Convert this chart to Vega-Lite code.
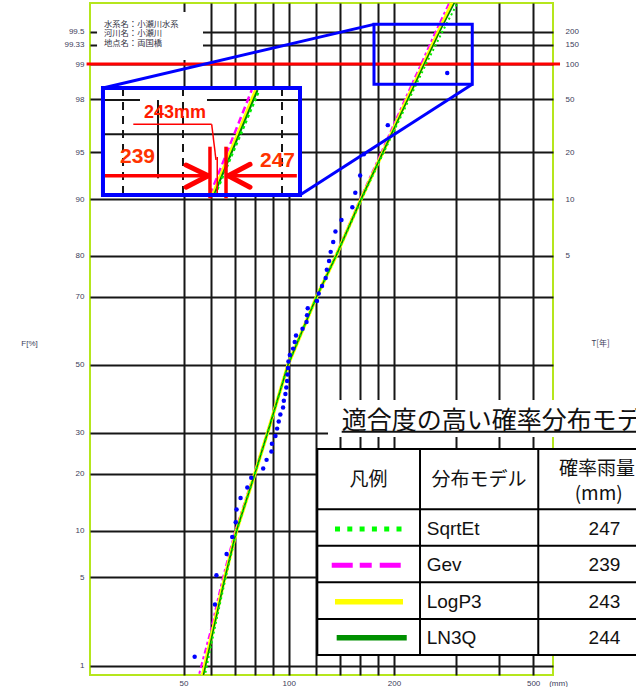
{
  "$schema": "https://vega.github.io/schema/vega-lite/v6.json",
  "width": 463,
  "height": 672,
  "autosize": {"type": "none"},
  "padding": {"left": 90, "top": 3, "right": 83, "bottom": 12},
  "background": "#ffffff",
  "config": {
    "view": {"stroke": "#b5e61d", "strokeWidth": 2},
    "text": {"font": "Liberation Sans"},
    "axis": {"labelFont": "Liberation Sans", "titleFont": "Noto Sans CJK JP"}
  },
  "data": {
    "values": [
      {"grp": "obs", "p": 1.20, "mm": 53.8},
      {"grp": "obs", "p": 3.19, "mm": 61.5},
      {"grp": "obs", "p": 5.18, "mm": 62.1},
      {"grp": "obs", "p": 7.17, "mm": 66.4},
      {"grp": "obs", "p": 9.16, "mm": 68.9},
      {"grp": "obs", "p": 11.16, "mm": 70.5},
      {"grp": "obs", "p": 13.15, "mm": 70.9},
      {"grp": "obs", "p": 15.14, "mm": 72.8},
      {"grp": "obs", "p": 17.13, "mm": 76.1},
      {"grp": "obs", "p": 19.12, "mm": 78.1},
      {"grp": "obs", "p": 21.12, "mm": 84.5},
      {"grp": "obs", "p": 23.11, "mm": 86.4},
      {"grp": "obs", "p": 25.10, "mm": 89.2},
      {"grp": "obs", "p": 27.09, "mm": 89.5},
      {"grp": "obs", "p": 29.08, "mm": 91.6},
      {"grp": "obs", "p": 31.08, "mm": 92.6},
      {"grp": "obs", "p": 33.07, "mm": 93.6},
      {"grp": "obs", "p": 35.06, "mm": 94.6},
      {"grp": "obs", "p": 37.05, "mm": 96.3},
      {"grp": "obs", "p": 39.04, "mm": 96.8},
      {"grp": "obs", "p": 41.04, "mm": 97.8},
      {"grp": "obs", "p": 43.03, "mm": 98.4},
      {"grp": "obs", "p": 45.02, "mm": 98.9},
      {"grp": "obs", "p": 47.01, "mm": 99.2},
      {"grp": "obs", "p": 49.00, "mm": 99.5},
      {"grp": "obs", "p": 51.00, "mm": 99.8},
      {"grp": "obs", "p": 52.99, "mm": 100.7},
      {"grp": "obs", "p": 54.98, "mm": 102.9},
      {"grp": "obs", "p": 56.97, "mm": 104.0},
      {"grp": "obs", "p": 58.96, "mm": 104.9},
      {"grp": "obs", "p": 60.96, "mm": 109.5},
      {"grp": "obs", "p": 62.95, "mm": 112.4},
      {"grp": "obs", "p": 64.94, "mm": 112.8},
      {"grp": "obs", "p": 66.93, "mm": 113.3},
      {"grp": "obs", "p": 68.92, "mm": 120.4},
      {"grp": "obs", "p": 70.92, "mm": 121.8},
      {"grp": "obs", "p": 72.91, "mm": 124.5},
      {"grp": "obs", "p": 74.90, "mm": 127.5},
      {"grp": "obs", "p": 76.89, "mm": 128.5},
      {"grp": "obs", "p": 78.88, "mm": 130.4},
      {"grp": "obs", "p": 80.88, "mm": 131.8},
      {"grp": "obs", "p": 82.87, "mm": 134.0},
      {"grp": "obs", "p": 84.86, "mm": 136.0},
      {"grp": "obs", "p": 86.85, "mm": 141.5},
      {"grp": "obs", "p": 88.84, "mm": 152.0},
      {"grp": "obs", "p": 90.84, "mm": 155.0},
      {"grp": "obs", "p": 92.83, "mm": 160.0},
      {"grp": "obs", "p": 94.82, "mm": 164.0},
      {"grp": "obs", "p": 96.81, "mm": 192.0},
      {"grp": "obs", "p": 98.80, "mm": 284.0},

      {"grp": "curve", "model": "Gev", "p": 0.7, "mm": 54.7},
      {"grp": "curve", "model": "Gev", "p": 1, "mm": 56.2},
      {"grp": "curve", "model": "Gev", "p": 2, "mm": 59.8},
      {"grp": "curve", "model": "Gev", "p": 5, "mm": 64.8},
      {"grp": "curve", "model": "Gev", "p": 10, "mm": 70.3},
      {"grp": "curve", "model": "Gev", "p": 20, "mm": 79.6},
      {"grp": "curve", "model": "Gev", "p": 30, "mm": 86.8},
      {"grp": "curve", "model": "Gev", "p": 50, "mm": 99.5},
      {"grp": "curve", "model": "Gev", "p": 70, "mm": 120},
      {"grp": "curve", "model": "Gev", "p": 80, "mm": 136},
      {"grp": "curve", "model": "Gev", "p": 90, "mm": 160},
      {"grp": "curve", "model": "Gev", "p": 95, "mm": 184},
      {"grp": "curve", "model": "Gev", "p": 98, "mm": 215},
      {"grp": "curve", "model": "Gev", "p": 99, "mm": 239},
      {"grp": "curve", "model": "Gev", "p": 99.5, "mm": 263},
      {"grp": "curve", "model": "Gev", "p": 99.8, "mm": 297},

      {"grp": "curve", "model": "LogP3", "p": 0.7, "mm": 56.1},
      {"grp": "curve", "model": "LogP3", "p": 1, "mm": 57.5},
      {"grp": "curve", "model": "LogP3", "p": 2, "mm": 60.6},
      {"grp": "curve", "model": "LogP3", "p": 5, "mm": 65.6},
      {"grp": "curve", "model": "LogP3", "p": 10, "mm": 70.9},
      {"grp": "curve", "model": "LogP3", "p": 20, "mm": 80},
      {"grp": "curve", "model": "LogP3", "p": 30, "mm": 87},
      {"grp": "curve", "model": "LogP3", "p": 50, "mm": 99.5},
      {"grp": "curve", "model": "LogP3", "p": 70, "mm": 120},
      {"grp": "curve", "model": "LogP3", "p": 80, "mm": 136.5},
      {"grp": "curve", "model": "LogP3", "p": 90, "mm": 161},
      {"grp": "curve", "model": "LogP3", "p": 95, "mm": 186},
      {"grp": "curve", "model": "LogP3", "p": 98, "mm": 218},
      {"grp": "curve", "model": "LogP3", "p": 99, "mm": 243},
      {"grp": "curve", "model": "LogP3", "p": 99.5, "mm": 268},
      {"grp": "curve", "model": "LogP3", "p": 99.8, "mm": 303},

      {"grp": "curve", "model": "LN3Q", "p": 0.7, "mm": 56.4},
      {"grp": "curve", "model": "LN3Q", "p": 1, "mm": 57.8},
      {"grp": "curve", "model": "LN3Q", "p": 2, "mm": 60.8},
      {"grp": "curve", "model": "LN3Q", "p": 5, "mm": 65.7},
      {"grp": "curve", "model": "LN3Q", "p": 10, "mm": 70.9},
      {"grp": "curve", "model": "LN3Q", "p": 20, "mm": 80},
      {"grp": "curve", "model": "LN3Q", "p": 30, "mm": 87},
      {"grp": "curve", "model": "LN3Q", "p": 50, "mm": 99.5},
      {"grp": "curve", "model": "LN3Q", "p": 70, "mm": 120},
      {"grp": "curve", "model": "LN3Q", "p": 80, "mm": 136.5},
      {"grp": "curve", "model": "LN3Q", "p": 90, "mm": 161},
      {"grp": "curve", "model": "LN3Q", "p": 95, "mm": 186},
      {"grp": "curve", "model": "LN3Q", "p": 98, "mm": 219},
      {"grp": "curve", "model": "LN3Q", "p": 99, "mm": 244},
      {"grp": "curve", "model": "LN3Q", "p": 99.5, "mm": 270},
      {"grp": "curve", "model": "LN3Q", "p": 99.8, "mm": 308},

      {"grp": "curve", "model": "SqrtEt", "p": 0.7, "mm": 57.0},
      {"grp": "curve", "model": "SqrtEt", "p": 1, "mm": 58.3},
      {"grp": "curve", "model": "SqrtEt", "p": 2, "mm": 61.2},
      {"grp": "curve", "model": "SqrtEt", "p": 5, "mm": 66},
      {"grp": "curve", "model": "SqrtEt", "p": 10, "mm": 71},
      {"grp": "curve", "model": "SqrtEt", "p": 20, "mm": 80},
      {"grp": "curve", "model": "SqrtEt", "p": 30, "mm": 87},
      {"grp": "curve", "model": "SqrtEt", "p": 50, "mm": 99.5},
      {"grp": "curve", "model": "SqrtEt", "p": 70, "mm": 120},
      {"grp": "curve", "model": "SqrtEt", "p": 80, "mm": 136.5},
      {"grp": "curve", "model": "SqrtEt", "p": 90, "mm": 161.5},
      {"grp": "curve", "model": "SqrtEt", "p": 95, "mm": 187},
      {"grp": "curve", "model": "SqrtEt", "p": 98, "mm": 221},
      {"grp": "curve", "model": "SqrtEt", "p": 99, "mm": 247},
      {"grp": "curve", "model": "SqrtEt", "p": 99.5, "mm": 275},
      {"grp": "curve", "model": "SqrtEt", "p": 99.8, "mm": 315},

      {"grp": "red99", "p": 99, "p2": 99, "mm": 26.4, "mm2": 597},

      {"grp": "whitebox", "mm": 28.28, "mm2": 56.84, "p": 99.682, "p2": 99.079},
      {"grp": "whitebox", "mm": 29.41, "mm2": 107.68, "p": 98.385, "p2": 90.544},
      {"grp": "whitebox", "mm": 129.5, "mm2": 1501, "p": 39.273, "p2": 28.828},

      {"grp": "table", "mm": 120.69, "mm2": 1501, "p": 25.746, "p2": 1.240},
      {"grp": "tline", "mm": 120.69, "mm2": 1501, "p": 13.187, "p2": 13.187},
      {"grp": "tline", "mm": 120.69, "mm2": 1501, "p": 8.089, "p2": 8.089},
      {"grp": "tline", "mm": 120.69, "mm2": 1501, "p": 4.628, "p2": 4.628},
      {"grp": "tline", "mm": 120.69, "mm2": 1501, "p": 2.465, "p2": 2.465},
      {"grp": "tline", "mm": 237.4, "mm2": 237.4, "p": 25.746, "p2": 1.240},
      {"grp": "tline", "mm": 517.3, "mm2": 517.3, "p": 25.746, "p2": 1.240},

      {"grp": "iblack", "mm": 29.41, "mm2": 37.53, "p": 97.971, "p2": 97.971},
      {"grp": "iblack", "mm": 58.35, "mm2": 107.68, "p": 97.971, "p2": 97.971},
      {"grp": "iblack", "mm": 29.41, "mm2": 107.68, "p": 96.268, "p2": 96.268},
      {"grp": "iblack", "mm": 42.25, "mm2": 42.25, "p": 97.971, "p2": 92.541},
      {"grp": "idash", "mm": 33.56, "mm2": 33.56, "p": 98.385, "p2": 90.544},
      {"grp": "idash", "mm": 49.82, "mm2": 49.82, "p": 98.385, "p2": 90.544},
      {"grp": "idash", "mm": 95.64, "mm2": 95.64, "p": 98.385, "p2": 90.544},

      {"grp": "icurve", "model": "Gev", "mm": 59.51, "mm2": 78.35, "p": 90.544, "p2": 98.32},
      {"grp": "icurve", "model": "LogP3", "mm": 60.5, "mm2": 80.33, "p": 90.544, "p2": 98.32},
      {"grp": "icurve", "model": "LN3Q", "mm": 61.1, "mm2": 81.39, "p": 90.544, "p2": 98.32},
      {"grp": "icurve", "model": "SqrtEt", "mm": 61.5, "mm2": 82.36, "p": 90.544, "p2": 98.32},

      {"grp": "ired", "mm": 59.51, "mm2": 59.51, "p": 95.418, "p2": 90.107},
      {"grp": "ired", "mm": 66.14, "mm2": 66.14, "p": 95.418, "p2": 90.107},
      {"grp": "ired", "mm": 29.80, "mm2": 59.51, "p": 92.819, "p2": 92.819},
      {"grp": "ired", "mm": 105.45, "mm2": 66.14, "p": 92.819, "p2": 92.819},
      {"grp": "ichev", "mm": 50.82, "mm2": 58.85, "p": 93.885, "p2": 92.819},
      {"grp": "ichev", "mm": 50.82, "mm2": 58.85, "p": 91.525, "p2": 92.819},
      {"grp": "ichev", "mm": 77.47, "mm2": 67.14, "p": 93.951, "p2": 92.819},
      {"grp": "ichev", "mm": 77.47, "mm2": 67.14, "p": 91.525, "p2": 92.819},
      {"grp": "ithin", "mm": 35.91, "mm2": 60.19, "p": 96.856, "p2": 96.856},
      {"grp": "ithin", "mm": 60.19, "mm2": 61.92, "p": 96.856, "p2": 94.339},
      {"grp": "ithin", "mm": 62.43, "mm2": 62.43, "p": 94.598, "p2": 90.544},

      {"grp": "rtext", "label": "243mm", "mm": 47.26, "p": 97.425},
      {"grp": "rnum", "label": "239", "mm": 36.92, "p": 94.598},
      {"grp": "rnum", "label": "247", "mm": 92.85, "p": 94.295},

      {"grp": "bluebig", "mm": 29.41, "mm2": 107.68, "p": 98.385, "p2": 90.544},
      {"grp": "bluesmall", "mm": 175.3, "mm2": 334.9, "p": 99.577, "p2": 98.498},
      {"grp": "blueline", "mm": 29.41, "mm2": 175.3, "p": 98.385, "p2": 99.577},
      {"grp": "blueline", "mm": 107.68, "mm2": 334.9, "p": 90.544, "p2": 98.498},

      {"grp": "title", "label": "適合度の高い確率分布モデル", "mm": 141.7, "p": 33.19},
      {"grp": "uline", "mm": 141.7, "mm2": 1501, "p": 30.244, "p2": 30.244},
      {"grp": "hdr", "label": "凡例", "mm": 169.1, "p": 18.647},
      {"grp": "hdr", "label": "分布モデル", "mm": 350.1, "p": 18.647},
      {"grp": "hdr", "label": "確率雨量", "mm": 761.7, "p": 20.905},
      {"grp": "hdr", "label": "(mm)", "mm": 770, "p": 15.791},

      {"grp": "row", "model": "SqrtEt", "label": "SqrtEt", "value": 247, "p": 10.2, "p2": 10.2, "mm": 135.6, "mm2": 210.8},
      {"grp": "row", "model": "Gev", "label": "Gev", "value": 239, "p": 6.05, "p2": 6.05, "mm": 132.7, "mm2": 210.8},
      {"grp": "row", "model": "LogP3", "label": "LogP3", "value": 243, "p": 3.34, "p2": 3.34, "mm": 135.6, "mm2": 212.2},
      {"grp": "row", "model": "LN3Q", "label": "LN3Q", "value": 244, "p": 1.74, "p2": 1.74, "mm": 137.1, "mm2": 217.5},

      {"grp": "info", "label": "水系名：小瀬川水系", "mm": 29.6, "p": 99.571},
      {"grp": "info", "label": "河川名：小瀬川", "mm": 29.6, "p": 99.471},
      {"grp": "info", "label": "地点名：両国橋", "mm": 29.6, "p": 99.341}
    ]
  },
  "transform": [
    {"calculate": "quantileNormal(datum.p / 100)", "as": "z"},
    {"calculate": "isValid(datum.p2) ? quantileNormal(datum.p2 / 100) : null", "as": "z2"}
  ],
  "encoding": {
    "x": {"field": "mm", "type": "quantitative", "scale": {"type": "log", "domain": [27, 570], "nice": false}, "axis": null},
    "y": {"field": "z", "type": "quantitative", "scale": {"domain": [-2.3991, 2.7982], "nice": false, "zero": false}, "axis": null}
  },
  "resolve": {"axis": {"x": "independent", "y": "independent"}},
  "layer": [
    {
      "transform": [{"filter": "datum.grp == 'red99'"}],
      "mark": {"type": "rule", "color": "#ff0000", "strokeWidth": 3},
      "encoding": {"x2": {"field": "mm2"}}
    },
    {
      "transform": [{"filter": "datum.grp == 'curve' && datum.model == 'Gev'"}],
      "mark": {"type": "line", "color": "#ff00ff", "strokeWidth": 2, "strokeDash": [6, 3, 3, 3], "clip": true},
      "encoding": {"order": {"field": "p", "type": "quantitative"}}
    },
    {
      "transform": [{"filter": "datum.grp == 'curve' && datum.model == 'LogP3'"}],
      "mark": {"type": "line", "color": "#ffff00", "strokeWidth": 3.5, "clip": true},
      "encoding": {"order": {"field": "p", "type": "quantitative"}}
    },
    {
      "transform": [{"filter": "datum.grp == 'curve' && datum.model == 'LN3Q'"}],
      "mark": {"type": "line", "color": "#008000", "strokeWidth": 1.6, "clip": true},
      "encoding": {
        "order": {"field": "p", "type": "quantitative"},
        "y": {
          "field": "z", "type": "quantitative",
          "scale": {"domain": [-2.3991, 2.7982], "nice": false, "zero": false},
          "axis": {
            "orient": "right",
            "values": [0.841621234, 1.281551566, 1.644853627, 2.053748911, 2.326347874, 2.47472, 2.575829304],
            "labelExpr": "format(1 / (1 - cumulativeNormal(datum.value)), '.3~r')",
            "grid": false, "domain": false, "ticks": false, "tickSize": 0,
            "labelOverlap": false, "labelFlush": false, "labelBound": false,
            "labelPadding": 12, "labelFontSize": 8, "labelColor": "#3c3c5a",
            "title": "T[年]", "titleAngle": 0, "titleX": 47, "titleY": 340,
            "titleAlign": "center", "titleBaseline": "middle",
            "titleFontSize": 8, "titleFontWeight": "normal", "titleColor": "#3c3c5a"
          }
        }
      }
    },
    {
      "transform": [{"filter": "datum.grp == 'curve' && datum.model == 'SqrtEt'"}],
      "mark": {"type": "line", "color": "#00ee00", "strokeWidth": 2, "strokeDash": [2, 3], "clip": true},
      "encoding": {"order": {"field": "p", "type": "quantitative"}}
    },
    {
      "transform": [{"filter": "datum.grp == 'obs'"}],
      "mark": {"type": "point", "filled": true, "color": "#0000ff", "size": 20, "opacity": 1},
      "encoding": {
        "x": {
          "field": "mm", "type": "quantitative",
          "scale": {"type": "log", "domain": [27, 570], "nice": false},
          "axis": {
            "values": [50, 60, 70, 80, 90, 100, 120, 140, 160, 180, 200, 300, 400, 500],
            "labelExpr": "indexof([50, 100, 200, 500], datum.value) >= 0 ? format(datum.value, 'd') : ''",
            "grid": true, "gridColor": "#161616", "gridWidth": 2,
            "domain": false, "ticks": false, "tickSize": 0,
            "labelOverlap": false, "labelFlush": false, "labelBound": false,
            "labelPadding": 4, "labelFontSize": 8, "labelColor": "#3c3c5a",
            "title": "(mm)", "titleX": 468, "titleY": 8,
            "titleAlign": "center", "titleBaseline": "middle",
            "titleFont": "Liberation Sans", "titleFontSize": 8, "titleFontWeight": "normal", "titleColor": "#3c3c5a"
          }
        },
        "y": {
          "field": "z", "type": "quantitative",
          "scale": {"domain": [-2.3991, 2.7982], "nice": false, "zero": false},
          "axis": {
            "values": [-2.326347874, -1.644853627, -1.281551566, -0.841621234, -0.524400513, 0, 0.524400513, 0.841621234, 1.281551566, 1.644853627, 2.053748911, 2.326347874, 2.47472, 2.575829304],
            "labelExpr": "format(cumulativeNormal(datum.value) * 100, '.4~r')",
            "grid": true, "gridColor": "#161616", "gridWidth": 2,
            "domain": false, "ticks": false, "tickSize": 0,
            "labelOverlap": false, "labelFlush": false, "labelBound": false,
            "labelPadding": 6, "labelFontSize": 8, "labelColor": "#3c3c5a",
            "title": "F[%]", "titleAngle": 0, "titleX": -61, "titleY": 340,
            "titleAlign": "center", "titleBaseline": "middle",
            "titleFont": "Liberation Sans", "titleFontSize": 8, "titleFontWeight": "normal", "titleColor": "#3c3c5a"
          }
        }
      }
    },
    {
      "transform": [{"filter": "datum.grp == 'whitebox'"}],
      "mark": {"type": "rect", "fill": "#ffffff", "strokeWidth": 0},
      "encoding": {"x2": {"field": "mm2"}, "y2": {"field": "z2"}}
    },
    {
      "transform": [{"filter": "datum.grp == 'table'"}],
      "mark": {"type": "rect", "fill": "#ffffff", "stroke": "#000000", "strokeWidth": 2},
      "encoding": {"x2": {"field": "mm2"}, "y2": {"field": "z2"}}
    },
    {
      "transform": [{"filter": "datum.grp == 'tline'"}],
      "mark": {"type": "rule", "color": "#000000", "strokeWidth": 2},
      "encoding": {"x2": {"field": "mm2"}, "y2": {"field": "z2"}}
    },
    {
      "transform": [{"filter": "datum.grp == 'iblack'"}],
      "mark": {"type": "rule", "color": "#161616", "strokeWidth": 2},
      "encoding": {"x2": {"field": "mm2"}, "y2": {"field": "z2"}}
    },
    {
      "transform": [{"filter": "datum.grp == 'idash'"}],
      "mark": {"type": "rule", "color": "#161616", "strokeWidth": 2, "strokeDash": [8, 6]},
      "encoding": {"x2": {"field": "mm2"}, "y2": {"field": "z2"}}
    },
    {
      "transform": [{"filter": "datum.grp == 'icurve' && datum.model == 'Gev'"}],
      "mark": {"type": "rule", "color": "#ff00ff", "strokeWidth": 2.5, "strokeDash": [7, 4]},
      "encoding": {"x2": {"field": "mm2"}, "y2": {"field": "z2"}}
    },
    {
      "transform": [{"filter": "datum.grp == 'icurve' && datum.model == 'LogP3'"}],
      "mark": {"type": "rule", "color": "#ffff00", "strokeWidth": 3},
      "encoding": {"x2": {"field": "mm2"}, "y2": {"field": "z2"}}
    },
    {
      "transform": [{"filter": "datum.grp == 'icurve' && datum.model == 'LN3Q'"}],
      "mark": {"type": "rule", "color": "#008000", "strokeWidth": 2},
      "encoding": {"x2": {"field": "mm2"}, "y2": {"field": "z2"}}
    },
    {
      "transform": [{"filter": "datum.grp == 'icurve' && datum.model == 'SqrtEt'"}],
      "mark": {"type": "rule", "color": "#00ee00", "strokeWidth": 2.5, "strokeDash": [3, 3]},
      "encoding": {"x2": {"field": "mm2"}, "y2": {"field": "z2"}}
    },
    {
      "transform": [{"filter": "datum.grp == 'ired'"}],
      "mark": {"type": "rule", "color": "#ff0000", "strokeWidth": 3.5},
      "encoding": {"x2": {"field": "mm2"}, "y2": {"field": "z2"}}
    },
    {
      "transform": [{"filter": "datum.grp == 'ichev'"}],
      "mark": {"type": "rule", "color": "#ff0000", "strokeWidth": 5, "strokeCap": "round"},
      "encoding": {"x2": {"field": "mm2"}, "y2": {"field": "z2"}}
    },
    {
      "transform": [{"filter": "datum.grp == 'ithin'"}],
      "mark": {"type": "rule", "color": "#ff0000", "strokeWidth": 1.5},
      "encoding": {"x2": {"field": "mm2"}, "y2": {"field": "z2"}}
    },
    {
      "transform": [{"filter": "datum.grp == 'rtext'"}],
      "mark": {"type": "text", "color": "#ff1a00", "fontSize": 18, "fontWeight": "bold", "align": "center", "baseline": "middle"},
      "encoding": {"text": {"field": "label"}}
    },
    {
      "transform": [{"filter": "datum.grp == 'rnum'"}],
      "mark": {"type": "text", "color": "#ff3300", "fontSize": 21, "fontWeight": "bold", "align": "center", "baseline": "middle"},
      "encoding": {"text": {"field": "label"}}
    },
    {
      "transform": [{"filter": "datum.grp == 'bluebig'"}],
      "mark": {"type": "rect", "fillOpacity": 0, "stroke": "#0000ff", "strokeWidth": 4},
      "encoding": {"x2": {"field": "mm2"}, "y2": {"field": "z2"}}
    },
    {
      "transform": [{"filter": "datum.grp == 'bluesmall'"}],
      "mark": {"type": "rect", "fillOpacity": 0, "stroke": "#0000ff", "strokeWidth": 3},
      "encoding": {"x2": {"field": "mm2"}, "y2": {"field": "z2"}}
    },
    {
      "transform": [{"filter": "datum.grp == 'blueline'"}],
      "mark": {"type": "rule", "color": "#0000ff", "strokeWidth": 3},
      "encoding": {"x2": {"field": "mm2"}, "y2": {"field": "z2"}}
    },
    {
      "transform": [{"filter": "datum.grp == 'title'"}],
      "mark": {"type": "text", "font": "Noto Sans CJK JP", "fontSize": 25, "color": "#111111", "align": "left", "baseline": "middle"},
      "encoding": {"text": {"field": "label"}}
    },
    {
      "transform": [{"filter": "datum.grp == 'uline'"}],
      "mark": {"type": "rule", "color": "#111111", "strokeWidth": 2},
      "encoding": {"x2": {"field": "mm2"}, "y2": {"field": "z2"}}
    },
    {
      "transform": [{"filter": "datum.grp == 'hdr'"}],
      "mark": {"type": "text", "font": "Noto Sans CJK JP", "fontSize": 19, "color": "#111111", "align": "center", "baseline": "middle"},
      "encoding": {"text": {"field": "label"}}
    },
    {
      "transform": [{"filter": "datum.grp == 'row'"}],
      "mark": {"type": "text", "fontSize": 19, "color": "#111111", "align": "left", "baseline": "middle"},
      "encoding": {"x": {"datum": 248.1}, "text": {"field": "label"}}
    },
    {
      "transform": [{"filter": "datum.grp == 'row'"}],
      "mark": {"type": "text", "fontSize": 19, "color": "#111111", "align": "center", "baseline": "middle"},
      "encoding": {"x": {"datum": 800}, "text": {"field": "value"}}
    },
    {
      "transform": [{"filter": "datum.grp == 'row' && datum.model == 'SqrtEt'"}],
      "mark": {"type": "rule", "color": "#00ff00", "strokeWidth": 5, "strokeDash": [5, 7.3]},
      "encoding": {"x2": {"field": "mm2"}, "y2": {"field": "z2"}}
    },
    {
      "transform": [{"filter": "datum.grp == 'row' && datum.model == 'Gev'"}],
      "mark": {"type": "rule", "color": "#ff00ff", "strokeWidth": 5, "strokeDash": [21, 7, 12, 8]},
      "encoding": {"x2": {"field": "mm2"}, "y2": {"field": "z2"}}
    },
    {
      "transform": [{"filter": "datum.grp == 'row' && datum.model == 'LogP3'"}],
      "mark": {"type": "rule", "color": "#ffff00", "strokeWidth": 5.5},
      "encoding": {"x2": {"field": "mm2"}, "y2": {"field": "z2"}}
    },
    {
      "transform": [{"filter": "datum.grp == 'row' && datum.model == 'LN3Q'"}],
      "mark": {"type": "rule", "color": "#009000", "strokeWidth": 5.5},
      "encoding": {"x2": {"field": "mm2"}, "y2": {"field": "z2"}}
    },
    {
      "transform": [{"filter": "datum.grp == 'info'"}],
      "mark": {"type": "text", "font": "Noto Sans CJK JP", "fontSize": 8.3, "color": "#333344", "align": "left", "baseline": "middle"},
      "encoding": {"text": {"field": "label"}}
    }
  ]
}
